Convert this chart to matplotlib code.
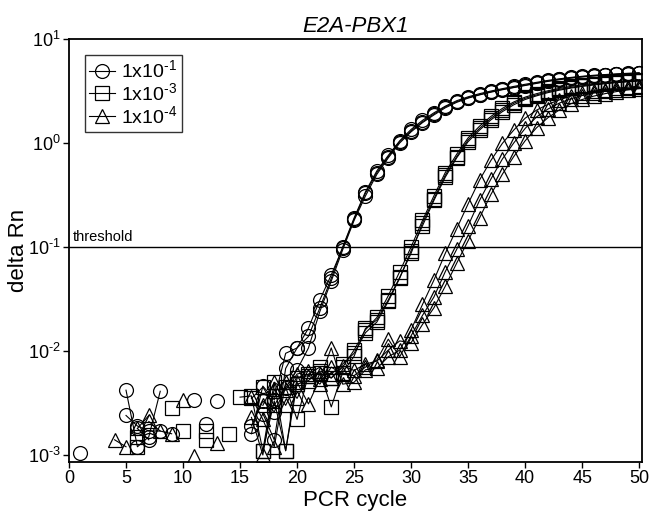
import numpy as np
import matplotlib
matplotlib.use("Agg")
import matplotlib.pyplot as plt

plt.rcParams['font.family'] = ['Liberation Sans', 'DejaVu Sans']
plt.rcParams['mathtext.default'] = 'regular'

nan = np.nan
cycles = np.arange(1, 51)

# 1x10^-1 replicates
circ1 = [0.00105, nan, nan, nan, 0.0042, 0.0012, 0.0015, 0.0041, nan, nan,
         0.0034, nan, 0.0033, nan, nan, 0.0016, 0.0046, 0.0034, 0.0095, 0.0107,
         0.0166, 0.031, 0.054, 0.098, 0.185, 0.33, 0.52, 0.74, 1.03, 1.31,
         1.60, 1.90, 2.23, 2.50, 2.73, 2.92, 3.11, 3.28, 3.43, 3.60,
         3.78, 3.95, 4.10, 4.24, 4.35, 4.44, 4.52, 4.58, 4.64, 4.70]
circ2 = [nan, nan, nan, nan, 0.0024, 0.0019, 0.0017, 0.0017, nan, nan,
         nan, 0.0020, nan, nan, nan, nan, 0.0025, 0.0014, 0.0068, 0.0107,
         0.0138, 0.026, 0.050, 0.100, 0.19, 0.34, 0.54, 0.76, 1.05, 1.35,
         1.65, 1.95, 2.26, 2.55, 2.78, 2.98, 3.16, 3.33, 3.50, 3.67,
         3.83, 4.00, 4.14, 4.27, 4.38, 4.48, 4.55, 4.62, 4.68, 4.74]
circ3 = [nan, nan, nan, nan, nan, 0.0018, 0.0014, nan, 0.0016, nan,
         nan, nan, nan, nan, nan, 0.0019, 0.0033, 0.0026, 0.0044, 0.0066,
         0.0107, 0.024, 0.047, 0.094, 0.18, 0.31, 0.50, 0.72, 1.00, 1.28,
         1.57, 1.86, 2.18, 2.46, 2.70, 2.90, 3.08, 3.25, 3.41, 3.57,
         3.74, 3.91, 4.06, 4.20, 4.31, 4.41, 4.49, 4.56, 4.62, 4.66]

# 1x10^-3 replicates
sq1 = [nan, nan, nan, nan, nan, 0.0015, nan, nan, 0.0028, nan,
       nan, 0.0017, nan, nan, 0.0036, 0.0037, 0.0011, 0.0033, 0.0011, 0.0055,
       0.0058, 0.0062, 0.0029, 0.0062, 0.0089, 0.0165, 0.0199, 0.031, 0.051, 0.087,
       0.17, 0.29, 0.49, 0.74, 1.07, 1.38, 1.73, 2.07, 2.41, 2.69,
       2.90, 3.11, 3.28, 3.42, 3.55, 3.66, 3.76, 3.84, 3.92, 3.98]
sq2 = [nan, nan, nan, nan, nan, 0.0012, nan, nan, nan, 0.0017,
       nan, 0.0014, nan, 0.0016, nan, 0.0035, 0.0045, 0.0030, 0.0045, 0.0022,
       0.0060, 0.0070, 0.0055, 0.0070, 0.0102, 0.016, 0.021, 0.034, 0.058, 0.100,
       0.18, 0.31, 0.52, 0.78, 1.12, 1.45, 1.80, 2.15, 2.48, 2.76,
       2.98, 3.18, 3.35, 3.50, 3.62, 3.73, 3.82, 3.90, 3.97, 4.04]
sq3 = [nan, nan, nan, nan, nan, nan, nan, nan, nan, nan,
       nan, nan, nan, nan, nan, nan, 0.0011, 0.0050, 0.0011, 0.0048,
       0.0052, 0.0064, 0.0060, 0.0075, 0.0095, 0.015, 0.019, 0.030, 0.050, 0.092,
       0.16, 0.28, 0.47, 0.72, 1.03, 1.33, 1.67, 2.00, 2.33, 2.62,
       2.84, 3.05, 3.22, 3.37, 3.50, 3.61, 3.71, 3.80, 3.87, 3.94]

# 1x10^-4 replicates
tri1 = [nan, nan, nan, 0.0014, 0.0012, nan, 0.0021, 0.0017, 0.0016, nan,
        0.00098, nan, 0.0013, nan, nan, 0.0023, 0.0010, 0.0043, 0.0030, 0.0050,
        0.0031, 0.0054, 0.0107, 0.0048, 0.0050, 0.0066, 0.0068, 0.0088, 0.0102, 0.016,
        0.028, 0.048, 0.087, 0.15, 0.26, 0.44, 0.68, 0.99, 1.33, 1.73,
        2.07, 2.35, 2.60, 2.82, 3.00, 3.14, 3.26, 3.36, 3.44, 3.52]
tri2 = [nan, nan, nan, nan, nan, 0.0018, 0.0024, nan, nan, 0.0034,
        nan, nan, nan, nan, nan, 0.0036, 0.0022, 0.0012, 0.0050, 0.0035,
        0.0058, 0.0048, 0.0070, 0.0060, 0.0058, 0.0070, 0.0082, 0.013, 0.0088, 0.014,
        0.022, 0.033, 0.058, 0.095, 0.16, 0.28, 0.45, 0.70, 1.00, 1.38,
        1.78, 2.12, 2.42, 2.66, 2.86, 3.02, 3.15, 3.26, 3.35, 3.43]
tri3 = [nan, nan, nan, nan, nan, nan, nan, nan, nan, nan,
        nan, nan, nan, nan, nan, nan, 0.0030, 0.0050, 0.0042, 0.0060,
        0.0064, 0.0060, 0.0055, 0.0072, 0.0065, 0.0075, 0.0080, 0.0102, 0.0125, 0.012,
        0.018, 0.026, 0.042, 0.070, 0.115, 0.19, 0.32, 0.50, 0.74, 1.05,
        1.40, 1.75, 2.08, 2.38, 2.62, 2.82, 2.98, 3.12, 3.24, 3.34]

groups = [
    ("1x10$^{\u20101}$", "o", [circ1, circ2, circ3]),
    ("1x10$^{\u20103}$", "s", [sq1, sq2, sq3]),
    ("1x10$^{\u20104}$", "^", [tri1, tri2, tri3]),
]
threshold = 0.1
yticks = [1e-3, 1e-2, 1e-1, 1, 10]
yticklabels = ["10$^{\u20103}$", "10$^{\u20102}$", "10$^{\u20101}$", "10$^{0}$", "10$^{1}$"]

fig = plt.figure(figsize=(6.51, 5.15), dpi=100)
ax = fig.add_axes([69/651, 1-461.5/515, (642-69)/651, (461.5-39)/515])

for label, marker, reps in groups:
    for i, rep in enumerate(reps):
        ax.plot(cycles, rep, color='black', lw=0.8, marker=marker, ms=10,
                mfc='none', mec='black', mew=0.9,
                label=label if i == 0 else None)

ax.axhline(threshold, color='black', lw=1.0)
ax.text(0.3, threshold*1.08, "threshold", fontsize=10.5, ha='left', va='bottom')

ax.set_yscale('log')
ax.set_ylim(10**-3.0625, 10)
ax.set_xlim(0, 50.25)
ax.set_xticks(range(0, 51, 5))
ax.set_yticks(yticks)
ax.set_yticklabels(yticklabels)
ax.minorticks_off()
ax.tick_params(labelsize=13, direction='out', length=4, width=1, pad=2)
for s in ax.spines.values():
    s.set_linewidth(1.3)

ax.set_xlabel("PCR cycle", fontsize=16, labelpad=2)
ax.set_ylabel("delta Rn", fontsize=16)
ax.yaxis.set_label_coords(-0.07, 0.5)
ax.set_title("E2A-PBX1", fontsize=16, style='italic', pad=5)

leg = ax.legend(loc='upper left', fontsize=14, frameon=True, fancybox=False,
                edgecolor='black', handlelength=1.3, handletextpad=0.3,
                borderpad=0.25, labelspacing=0.05, borderaxespad=0.8,
                bbox_to_anchor=(0.0, 1.0))
leg.get_frame().set_linewidth(1.0)

fig.savefig("out.png", dpi=100)
